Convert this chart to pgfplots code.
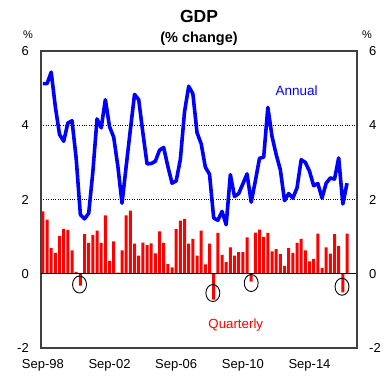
\documentclass[border=0pt]{standalone}
\usepackage{fontspec}
\setmainfont{Liberation Sans}
\usepackage{pgfplots}
\usepackage{pgfplotstable}
\pgfplotsset{compat=1.18}
\definecolor{qred}{RGB}{255,0,0}
\definecolor{ablue}{RGB}{0,0,255}
\definecolor{axgray}{RGB}{64,64,64}

\pgfplotstableread{
x q a
0 1.68 5.12
1 1.46 5.12
2 0.69 5.43
3 0.56 4.49
4 1.02 3.75
5 1.21 3.57
6 1.18 4.06
7 0.63 4.12
8 0.05 3.10
9 -0.32 1.59
10 1.07 1.48
11 0.83 1.63
12 1.05 2.75
13 1.16 4.17
14 0.83 3.93
15 1.57 4.69
16 0.35 3.96
17 0.87 3.68
18 0.03 2.89
19 0.63 1.90
20 1.57 2.90
21 1.70 3.88
22 0.81 4.83
23 0.49 4.69
24 0.84 3.80
25 0.77 2.96
26 0.82 2.97
27 0.55 3.03
28 1.14 3.33
29 0.83 3.40
30 0.26 2.89
31 0.17 2.44
32 1.20 2.50
33 1.43 3.08
34 1.48 4.36
35 0.81 5.05
36 0.94 4.85
37 0.49 3.80
38 1.16 3.50
39 0.25 2.87
40 0.81 2.68
41 -0.70 1.50
42 1.10 1.44
43 0.51 1.68
44 0.31 1.32
45 0.71 2.67
46 0.49 2.08
47 0.58 2.16
48 0.58 2.42
49 0.98 2.69
50 -0.21 1.93
51 1.11 2.50
52 1.19 3.11
53 0.99 3.14
54 1.10 4.48
55 0.60 3.70
56 0.66 3.21
57 0.53 2.80
58 0.21 1.97
59 0.69 2.16
60 0.56 2.04
61 0.83 2.31
62 0.94 3.07
63 0.63 3.00
64 0.33 2.76
65 0.40 2.37
66 1.08 2.43
67 0.16 2.04
68 0.71 2.44
69 0.54 2.58
70 1.07 2.55
71 0.75 3.12
72 -0.50 1.88
73 1.08 2.44
}\gdp

\begin{document}
\begin{tikzpicture}
\begin{axis}[
  scale only axis, width=316bp, height=297bp,
  xmin=-0.45, xmax=75.4, ymin=-2, ymax=6,
  xtick={0,16,32,48,64},
  xticklabels={Sep-98,Sep-02,Sep-06,Sep-10,Sep-14},
  ytick={-2,0,2,4,6},
  major tick length=0pt,
  ymajorgrids,
  major grid style={black, line width=0.6pt, dash pattern=on 0.8pt off 1.6pt},
  axis line style={axgray, line width=1.2bp},
  tick label style={font=\fontsize{13bp}{15bp}\selectfont},
  /pgf/number format/assume math mode=true,
  yticklabel style={anchor=east, inner sep=0pt, xshift=-12bp},
  xticklabel style={anchor=north, inner sep=0pt, yshift=-11bp},
  clip=false,
]
\addplot[ybar, bar width=0.72, fill=qred, draw=none] table[x=x, y=q] {\gdp};
\addplot[black, line width=1.1pt] coordinates {(-0.45,0) (75.4,0)};
\addplot[ablue, line width=3.6pt, line join=round, mark=none] table[x=x, y=a] {\gdp};
\addplot[only marks, mark=o, mark size=8.5bp,
  mark options={xscale=0.82, black, line width=0.9pt}]
  coordinates {(8.8,-0.29) (40.8,-0.52) (50,-0.25) (71.8,-0.35)};
\node[ablue, font=\fontsize{13.5bp}{15bp}\selectfont, anchor=center] at (axis cs:60.9,4.93) {Annual};
\node[qred, font=\fontsize{13.3bp}{15bp}\selectfont, anchor=center] at (axis cs:46.3,-1.37) {Quarterly};
\node[font=\bfseries\fontsize{17.5bp}{18bp}\selectfont, anchor=base] at ([yshift=28bp]rel axis cs:0.5,1) {GDP};
\node[font=\bfseries\fontsize{14.5bp}{15bp}\selectfont, anchor=base] at ([yshift=8.7bp]rel axis cs:0.5,1) {(\% change)};
\node[font=\fontsize{11bp}{12bp}\selectfont, anchor=base] at ([xshift=-13bp,yshift=12bp]rel axis cs:0,1) {\%};
\node[font=\fontsize{11bp}{12bp}\selectfont, anchor=base] at ([xshift=10bp,yshift=12bp]rel axis cs:1,1) {\%};
\end{axis}
\begin{axis}[
  scale only axis, width=316bp, height=297bp,
  xmin=-0.45, xmax=75.4, ymin=-2, ymax=6,
  hide x axis, axis y line*=right,
  ytick={-2,0,2,4,6},
  major tick length=0pt,
  axis line style={axgray, line width=1.2bp},
  tick label style={font=\fontsize{13bp}{15bp}\selectfont},
  /pgf/number format/assume math mode=true,
  yticklabel style={anchor=west, inner sep=0pt, xshift=12bp},
]
\addplot[draw=none] coordinates {(0,0)};
\end{axis}
\pgfresetboundingbox
\path ([shift={(-41bp,-30bp)}]current axis.south west) rectangle ([shift={(34bp,51bp)}]current axis.north east);
\end{tikzpicture}
\end{document}
